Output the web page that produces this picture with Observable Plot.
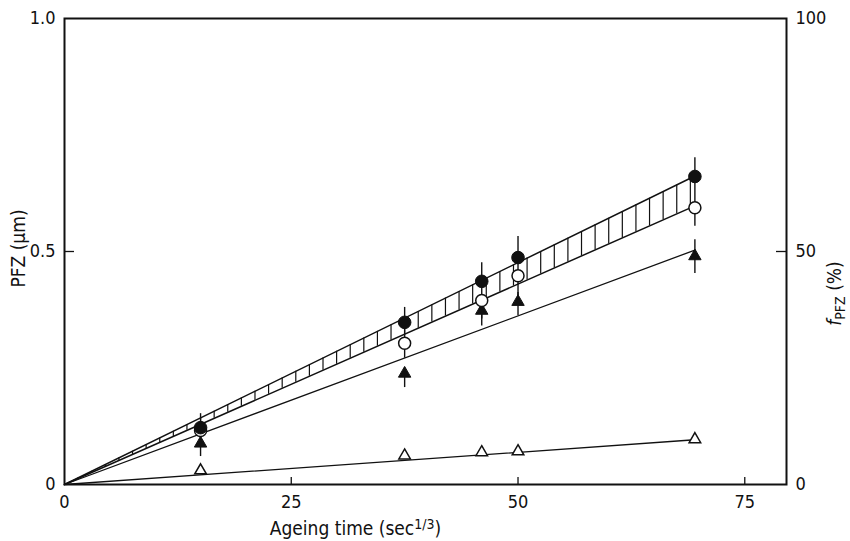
<!DOCTYPE html>
<html><head><meta charset="utf-8">
<script src="https://cdn.jsdelivr.net/npm/d3@7"></script>
<script src="https://cdn.jsdelivr.net/npm/@observablehq/plot@0.6"></script>
<style>
body{margin:0;background:#fff}
#chart svg{font-family:"DejaVu Sans Condensed","DejaVu Sans",sans-serif;background:#fff}
</style>
</head><body><div id="chart"></div><script>
// Ageing time (sec^1/3) of measurements
const ageing = [15, 37.5, 46, 50, 69.5];
// PFZ width (µm)
const filledCircle   = [0.122, 0.348, 0.436, 0.487, 0.661];
const openCircle     = [0.116, 0.303, 0.395, 0.448, 0.594];
const filledTriangle = [0.088, 0.238, 0.373, 0.392, 0.490];
const openTriangle   = [0.030, 0.062, 0.069, 0.071, 0.097];
// scatter bars
const circleErr  = [0.030, 0.032, 0.040, 0.045, 0.040];
const triErrLow  = [0.028, 0.030, 0.033, 0.030, 0.037];
const triErrHigh = [0.012, 0.012, 0.012, 0.020, 0.035];
// fitted straight lines through origin (x, y at end points)
const fitX          = [0, 69.5];
const bandUpper     = [0, 0.662];
const bandLower     = [0, 0.598];
const triFit        = [0, 0.503];
const openTriFit    = [0, 0.096];
// axis ticks
const xTicks = [0, 25, 50, 75];
const yTicks = [0, 0.5, 1.0];
const yTickLabels = ["0", "0.5", "1.0"];
const rightTicks = [0, 50, 100];

const xMax = 79.6;
const pts = ageing.map((x, i) => ({
  x, fc: filledCircle[i], oc: openCircle[i], ft: filledTriangle[i], ot: openTriangle[i],
  ce: circleErr[i], tl: triErrLow[i], th: triErrHigh[i]
}));
const fit = (arr) => fitX.map((x, i) => ({x, y: arr[i]}));
const upSlope = bandUpper[1] / fitX[1], loSlope = bandLower[1] / fitX[1];
const hatchX = d3.range(1.5, fitX[1], 1.5);

const plot = Plot.plot({
  width: 850, height: 541,
  marginLeft: 64, marginRight: 64, marginTop: 18, marginBottom: 57,
  x: {domain: [0, xMax], axis: null},
  y: {domain: [0, 1], axis: null},
  style: {fontSize: "17px", color: "#111"},
  marks: [
    Plot.frame({stroke: "#111", strokeWidth: 2}),
    // hatching between band lines
    Plot.ruleX(hatchX, {x: d => d, y1: d => d * loSlope, y2: d => d * upSlope, stroke: "#111", strokeWidth: 1.2}),
    Plot.line(fit(bandUpper), {x: "x", y: "y", stroke: "#111", strokeWidth: 1.5}),
    Plot.line(fit(bandLower), {x: "x", y: "y", stroke: "#111", strokeWidth: 1.5}),
    Plot.line(fit(triFit), {x: "x", y: "y", stroke: "#111", strokeWidth: 1.3}),
    Plot.line(fit(openTriFit), {x: "x", y: "y", stroke: "#111", strokeWidth: 1.3}),
    // scatter bars
    Plot.ruleX(pts, {x: "x", y1: d => d.oc - d.ce, y2: d => d.fc + d.ce, stroke: "#111", strokeWidth: 1.4}),
    Plot.ruleX(pts, {x: "x", y1: d => d.ft - d.tl, y2: d => d.ft + d.th, stroke: "#111", strokeWidth: 1.4}),
    // markers
    Plot.dot(pts, {x: "x", y: "ot", symbol: "triangle", r: 4.3, fill: "white", stroke: "#111", strokeWidth: 1.5}),
    Plot.dot(pts, {x: "x", y: "ft", symbol: "triangle", r: 4.6, fill: "#111", stroke: "#111", strokeWidth: 1}),
    Plot.dot(pts, {x: "x", y: "oc", r: 6, fill: "white", stroke: "#111", strokeWidth: 1.5}),
    Plot.dot(pts, {x: "x", y: "fc", r: 6.3, fill: "#111", stroke: "#111", strokeWidth: 1}),
    // inward ticks
    Plot.ruleX(xTicks.slice(1), {x: d => d, y1: 0, y2: 0.015, stroke: "#111", strokeWidth: 1.3}),
    Plot.ruleY([0.5], {y: d => d, x1: 0, x2: 1.1, stroke: "#111", strokeWidth: 1.3}),
    Plot.ruleY([0.5], {y: d => d, x1: xMax - 1.1, x2: xMax, stroke: "#111", strokeWidth: 1.3}),
    // tick labels
    Plot.text(xTicks, {x: d => d, y: 0, dy: 18, text: d => String(d), fontSize: 18, fill: "#111"}),
    Plot.text(yTicks, {x: 0, y: d => d, dx: -9, text: (d, i) => yTickLabels[i], textAnchor: "end", fontSize: 18, fill: "#111"}),
    Plot.text(rightTicks, {x: xMax, y: d => d / 100, dx: 9, text: d => String(d), textAnchor: "start", fontSize: 18, fill: "#111"}),
    // axis titles
    Plot.text(["PFZ (µm)"], {frameAnchor: "left", textAnchor: "middle", lineAnchor: "middle", dx: -46, dy: -3, rotate: -90, fontSize: 19, fill: "#111"}),
    Plot.text(["fPFZ (%)"], {frameAnchor: "right", textAnchor: "middle", lineAnchor: "middle", dx: 48, dy: 42, rotate: -90, fontSize: 19, fill: "#111"}),
    Plot.text(["Ageing time (sec1/3)"], {frameAnchor: "bottom", textAnchor: "middle", lineAnchor: "middle", dx: -70, dy: 44, fontSize: 19, fill: "#111"})
  ]
});
document.getElementById("chart").appendChild(plot);

// rich text for titles (italic, sub/superscripts)
const svg = d3.select(plot);
svg.selectAll("text").each(function() {
  const t = this.textContent;
  const sel = d3.select(this);
  if (t === "fPFZ (%)") {
    sel.text("");
    sel.append("tspan").attr("font-style", "italic").text("f");
    sel.append("tspan").attr("font-size", "14px").attr("baseline-shift", "-30%").text("PFZ");
    sel.append("tspan").text(" (%)");
  } else if (t === "Ageing time (sec1/3)") {
    sel.text("");
    sel.append("tspan").text("Ageing time (sec");
    sel.append("tspan").attr("font-size", "14px").attr("baseline-shift", "45%").text("1/3");
    sel.append("tspan").text(")");
  }
});
</script></body></html>
